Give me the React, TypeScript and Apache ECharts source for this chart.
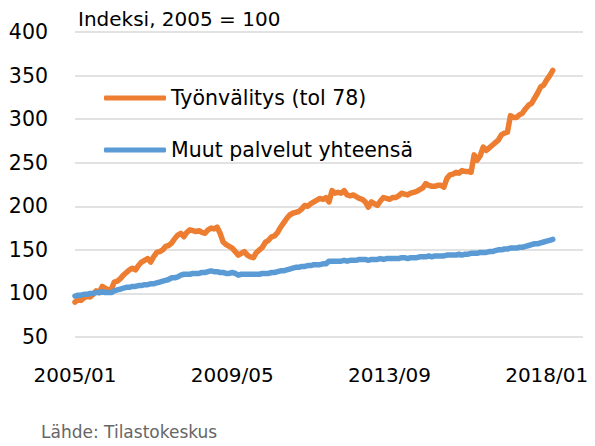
import React, { useEffect, useRef } from "react";
import * as echarts from "echarts";

const START_YEAR = 2005;
const MONTH_COUNT = 169; // 2005/01 .. 2019/01 (axis extends past the data)

const categories: string[] = [];
for (let i = 0; i < MONTH_COUNT; i++) {
  const y = START_YEAR + Math.floor(i / 12);
  const m = (i % 12) + 1;
  categories.push(`${y}/${m < 10 ? "0" + m : m}`);
}

const titleText = "Indeksi, 2005 = 100";
const sourceText = "Lähde: Tilastokeskus";
const seriesNames = ["Työnvälitys (tol 78)", "Muut palvelut yhteensä"];

const tyonvalitys = [
  90, 93, 92, 95, 97, 96, 99, 103, 101, 108, 106, 104, 105, 113, 114, 117, 121, 124, 127, 129,
  127, 132, 136, 138, 140, 136, 142, 147, 148, 150, 154, 155, 158, 163, 167, 169, 165, 170, 173, 172,
  171, 172, 170, 169, 173, 175, 174, 176, 169, 159, 156, 154, 152, 148, 144, 146, 148, 144, 142, 141,
  147, 150, 153, 159, 161, 165, 166, 170, 176, 181, 186, 190, 192, 193, 194, 197, 201, 200, 203, 205,
  207, 209, 208, 210, 205, 218, 215, 216, 215, 218, 213, 212, 213, 211, 209, 208, 205, 199, 205, 203,
  201, 206, 210, 209, 208, 210, 210, 212, 215, 214, 213, 215, 216, 217, 219, 221, 226, 224, 223, 223,
  224, 224, 222, 232, 236, 237, 239, 238, 241, 240, 240, 239, 259, 253, 258, 268, 264, 267, 270, 273,
  276, 282, 284, 285, 304, 302, 302, 305, 307, 312, 316, 318, 324, 330, 337, 339, 345, 350, 356,
];

const muutPalvelut = [
  97, 98, 98, 99, 99, 100, 100, 101, 101, 102, 101, 101, 101, 103, 104, 105, 106, 107, 107, 108,
  108, 109, 109, 110, 110, 111, 111, 112, 113, 114, 115, 116, 118, 118, 119, 121, 122, 122, 122, 123,
  123, 123, 124, 124, 125, 126, 125, 125, 124, 124, 123, 123, 124, 123, 121, 122, 122, 122, 122, 122,
  122, 122, 123, 123, 123, 124, 124, 125, 126, 126, 127, 128, 129, 130, 130, 131, 131, 132, 132, 133,
  133, 133, 134, 134, 137, 137, 137, 137, 137, 138, 137, 138, 138, 138, 139, 139, 139, 138, 139, 139,
  139, 140, 139, 140, 140, 140, 140, 140, 141, 141, 140, 141, 141, 141, 142, 142, 142, 143, 142, 143,
  143, 143, 143, 144, 144, 144, 144, 145, 144, 145, 145, 146, 146, 146, 147, 147, 147, 148, 148, 149,
  150, 150, 151, 151, 152, 152, 152, 153, 153, 154, 155, 156, 157, 157, 158, 159, 160, 161, 162,
];

const FONT = "DejaVu Sans";

export default function App() {
  const ref = useRef<HTMLDivElement>(null);
  useEffect(() => {
    if (!ref.current) return;
    const chart = echarts.init(ref.current, undefined, { renderer: "svg" });
    chart.setOption({
      animation: false,
      backgroundColor: "#ffffff",
      textStyle: { fontFamily: FONT },
      grid: { left: 75, right: 12, top: 32, bottom: 109, containLabel: false },
      legend: {
        orient: "vertical",
        left: 104,
        top: 86,
        padding: 0,
        itemGap: 28,
        itemWidth: 62,
        itemHeight: 5,
        icon: "roundRect",
        textStyle: { fontFamily: FONT, fontSize: 20.5, color: "#000000", lineHeight: 24 },
        data: [
          { name: seriesNames[0], itemStyle: { color: "#ED7D31" } },
          { name: seriesNames[1], itemStyle: { color: "#5B9BD5" } },
        ],
      },
      graphic: [
        {
          type: "text",
          left: 78,
          top: 9,
          style: { text: titleText, font: `20px '${FONT}'`, fill: "#000000" },
        },
        {
          type: "text",
          left: 41,
          top: 423,
          style: { text: sourceText, font: `17px '${FONT}'`, fill: "#666666" },
        },
      ],
      xAxis: {
        type: "category",
        data: categories,
        boundaryGap: false,
        axisLine: { show: false },
        axisTick: { show: false },
        splitLine: { show: false },
        axisLabel: {
          interval: 51,
          margin: 28,
          fontSize: 20,
          fontFamily: FONT,
          color: "#000000",
        },
      },
      yAxis: {
        type: "value",
        min: 50,
        max: 400,
        interval: 50,
        axisLine: { show: false },
        axisTick: { show: false },
        splitLine: { lineStyle: { color: "#d9d9d9", width: 1.5 } },
        axisLabel: { margin: 27, fontSize: 20.5, fontFamily: FONT, color: "#000000" },
      },
      series: [
        {
          name: seriesNames[0],
          type: "line",
          data: tyonvalitys,
          showSymbol: false,
          symbol: "none",
          lineStyle: { color: "#ED7D31", width: 5.5, cap: "round", join: "round" },
          itemStyle: { color: "#ED7D31" },
        },
        {
          name: seriesNames[1],
          type: "line",
          data: muutPalvelut,
          showSymbol: false,
          symbol: "none",
          lineStyle: { color: "#5B9BD5", width: 5.5, cap: "round", join: "round" },
          itemStyle: { color: "#5B9BD5" },
        },
      ],
    });
    return () => chart.dispose();
  }, []);
  return (
    <div
      ref={ref}
      style={{ position: "fixed", left: 0, top: 0, width: 595, height: 446 }}
    />
  );
}
